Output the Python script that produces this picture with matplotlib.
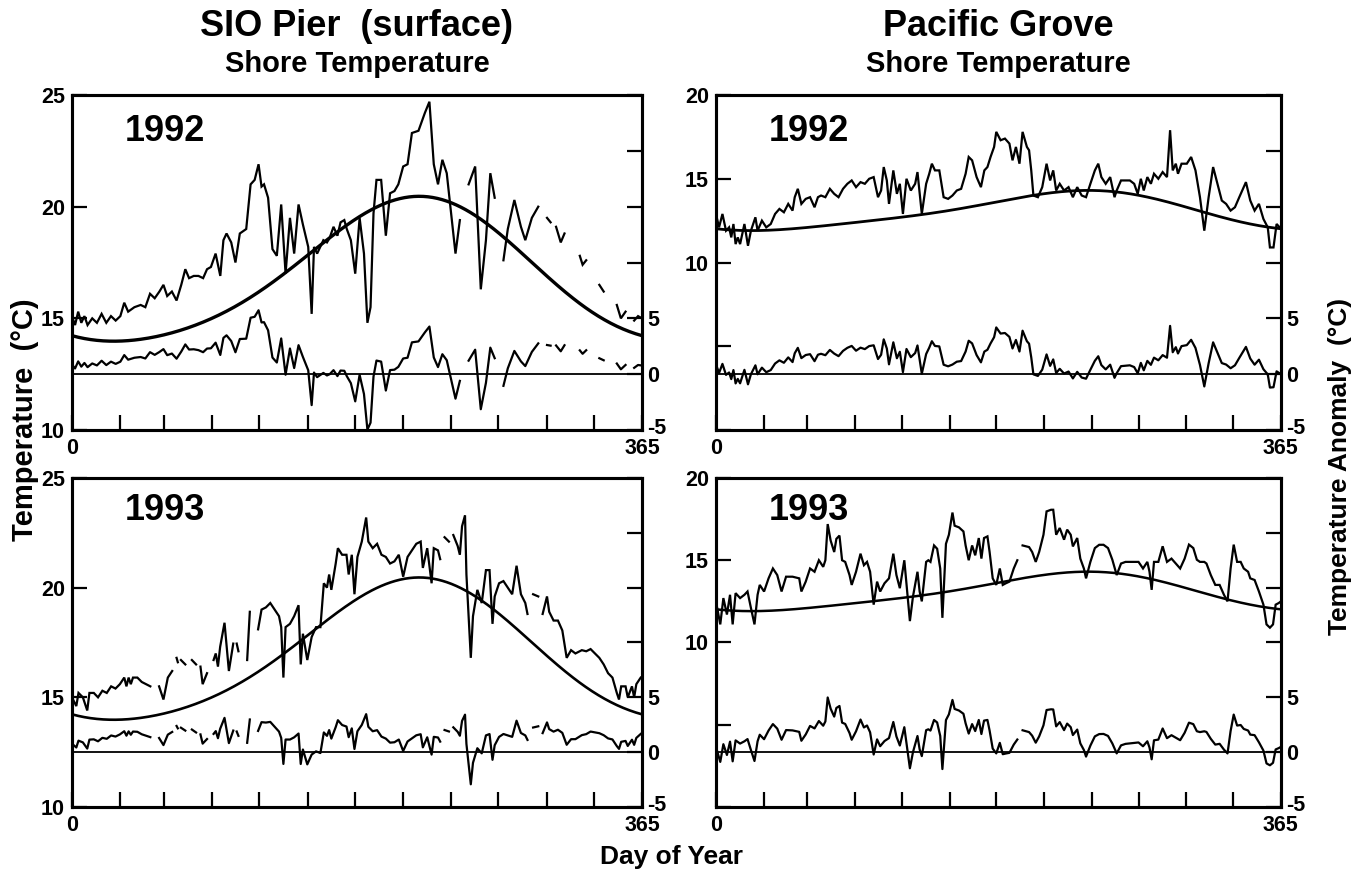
import numpy as np
import matplotlib
matplotlib.use("Agg")
import matplotlib.pyplot as plt
from matplotlib.transforms import ScaledTranslation

plt.rcParams['font.family'] = ['Liberation Sans', 'DejaVu Sans']
plt.rcParams['font.weight'] = 'bold'

nan = np.nan

MONTH_STARTS = [0, 31, 59, 90, 120, 151, 181, 212, 243, 273, 304, 334, 365]

# Seasonal climatology reference values (day of year, deg C)
SIO_CLIM = [(0, 14.3), (33, 14.0), (64, 14.27), (92, 15.03), (120, 16.3), (148, 17.67),
            (176, 19.18), (204, 20.14), (225, 20.45), (246, 20.17), (273, 18.88),
            (301, 17.07), (329, 15.33), (365, 14.3)]
PG_CLIM = [(0, 12.03), (35, 11.87), (96, 12.5), (130, 12.76), (147, 13.1), (204, 13.97),
           (243, 14.32), (268, 14.06), (280, 14.0), (310, 12.96), (331, 12.7), (365, 12.05)]

# Daily shore temperature (day of year, deg C); nan marks missing records
SIO_1992 = [
    (0, 15.1), (2, 14.7), (4, 15.3), (6, 14.8), (8, 15.1), (10, 14.7), (13, 15.0), (16, 14.8),
    (19, 15.2), (22, 14.8), (25, 15.1), (28, 14.9), (31, 15.1), (33.5, 15.7), (36, 15.3),
    (40, 15.5), (44, 15.6), (47, 15.5), (50, 16.1), (53, 15.9), (56, 16.2), (58.6, 16.5),
    (61, 16.0), (64, 16.2), (67, 15.8), (70, 16.5), (72.6, 17.2), (75, 16.8), (78, 16.9),
    (81, 16.9), (84, 16.8), (86.5, 17.2), (89, 17.3), (92, 17.9), (95, 16.9), (97, 18.5),
    (99, 18.8), (102, 18.4), (104.7, 17.5), (107.5, 18.8), (111.6, 19.0), (114.4, 21.0),
    (117, 21.2), (119.5, 21.9), (121.4, 20.9), (123, 21.0), (125.6, 20.4), (128.4, 18.1),
    (131.2, 17.8), (134, 20.1), (136.8, 17.0), (139.6, 19.5), (142.3, 17.9), (145.1, 20.1),
    (147.9, 19.2), (151.3, 18.2), (153.5, 15.2), (155, 18.2), (157, 17.9), (159, 18.2),
    (161, 18.5), (163.3, 18.4), (165, 18.6), (167.5, 19.1), (170, 18.7), (172, 19.3),
    (174.4, 19.4), (176, 19.0), (178.6, 18.5), (181.4, 17.0), (184.2, 19.5), (187, 17.9),
    (189.2, 14.8), (191.2, 15.5), (193.1, 19.7), (195, 21.2), (198, 21.2), (201, 18.7),
    (203.7, 20.6), (206.5, 20.7), (209, 21.0), (212.1, 21.8), (214.9, 21.9), (217.7, 23.3),
    (221.9, 23.4), (226, 24.2), (228.9, 24.7), (231.7, 21.9), (234.4, 21.0), (237.2, 22.1),
    (240, 21.5), (242.8, 19.7), (245.6, 17.9), (248.4, 19.4), (251, nan), (254, 21.0),
    (258.2, 21.8), (261.8, 16.3), (265.1, 18.5), (267.9, 21.5), (270.7, 20.4), (273, nan),
    (276.3, 17.6), (279.1, 19.0), (283.3, 20.3), (287.5, 19.1), (290.3, 18.5), (294.5, 19.5),
    (298.6, 20.0), (301, nan), (304.2, 19.5), (306.5, 19.3), (308, nan), (310, 19.1),
    (313, 18.4), (315.4, 18.8), (318, nan), (325.2, 17.8), (327, 17.4), (329.3, 17.6),
    (333, nan), (337.7, 16.5), (340.5, 16.2), (344, nan), (348.9, 15.6), (351.5, 15.0),
    (354.5, 15.3), (357, nan), (360, 14.9), (362.5, 15.1), (365, 15.0),
]

SIO_1993 = [
    (0, 15.0), (1.4, 14.8), (2.8, 14.6), (4.2, 15.2), (7.0, 15.0), (9.8, 14.4), (11.2, 15.2),
    (14, 15.2), (16.7, 15.0), (19.5, 15.3), (22.3, 15.2), (25.1, 15.5), (27.9, 15.4),
    (30.7, 15.6), (33.5, 15.9), (34.9, 15.5), (36.3, 15.9), (37.7, 15.6), (39.1, 15.9),
    (41.9, 15.9), (44.7, 15.7), (47.4, 15.6), (50.2, 15.5), (52, nan), (55.8, 15.5),
    (58.6, 14.9), (61.4, 15.9), (64.2, 16.2), (66, nan), (67.0, 16.8), (67.8, 16.6),
    (69, nan), (69.8, 16.7), (72.6, 16.5), (74.5, nan), (76.8, 16.7), (79.5, 16.5),
    (81, nan), (82.3, 16.4), (83.7, 15.6), (86.5, 16.1), (88.5, nan), (90.7, 16.7),
    (92.1, 17.0), (93.5, 16.4), (94.9, 17.3), (97.7, 18.4), (99.1, 17.3), (100.5, 16.2),
    (103.3, 17.45), (104.5, nan), (105.5, 17.45), (106.6, 17.1), (109, nan), (112.2, 16.7),
    (113.9, 18.9), (116, nan), (119.2, 18.1), (121.4, 19.0), (124.2, 19.1), (127.0, 19.3),
    (129.8, 19.0), (132.6, 18.7), (134.0, 18.2), (135.4, 15.9), (136.8, 18.2), (139.6, 18.35),
    (142.3, 18.7), (145.1, 19.2), (146.5, 16.5), (147.9, 17.9), (150.7, 16.7), (153.5, 17.75),
    (156.3, 18.2), (159.1, 18.2), (161.3, 20.2), (163.3, 20.0), (164.7, 20.6), (166.1, 19.9),
    (168.9, 21.1), (170.3, 21.8), (173.0, 21.5), (175.8, 21.5), (177.2, 20.6), (179.2, 21.5),
    (180.9, 19.7), (182.8, 21.4), (185.6, 22.1), (188.4, 23.2), (189.8, 22.1), (192.6, 21.8),
    (195.4, 22.0), (198.2, 21.5), (201.0, 21.4), (203.7, 21.1), (206.5, 21.2), (209.3, 21.5),
    (212.1, 20.5), (214.9, 21.4), (217.7, 21.7), (220.5, 22.0), (223.3, 22.1), (224.7, 20.9),
    (227.5, 21.8), (230.3, 20.2), (231.7, 21.8), (234.4, 21.7), (235.8, 21.3), (237.5, nan),
    (238.6, 22.3), (241.4, 22.1), (243, nan), (244.2, 22.4), (247.0, 21.9), (248.4, 21.5),
    (249.8, 22.8), (251.7, 23.3), (252.6, 20.6), (254.0, 18.7), (255.4, 16.8), (256.8, 18.7),
    (259.6, 19.9), (262.4, 19.3), (265.1, 20.8), (267.4, 20.8), (269.3, 18.35), (270.7, 19.6),
    (273.5, 20.2), (276.3, 20.3), (279.1, 20.0), (281.9, 19.7), (284.7, 21.0), (287.5, 19.7),
    (290.3, 19.3), (291.7, 18.8), (293.5, nan), (295.3, 19.7), (298.6, 19.6), (300.5, nan),
    (301.4, 18.8), (304.2, 19.6), (305.6, 18.9), (308.4, 18.5), (311.2, 18.5), (314.0, 18.05),
    (316.8, 16.8), (319.6, 17.15), (322.4, 17.0), (326.5, 17.15), (329.3, 17.1), (332.1, 17.2),
    (334.9, 17.0), (337.7, 16.8), (340.5, 16.5), (343.3, 16.1), (346.1, 15.9), (348.9, 15.2),
    (350.3, 14.9), (351.7, 15.5), (354.5, 15.5), (355.9, 15.0), (358.6, 15.5), (360.0, 15.0),
    (361.4, 15.6), (364.2, 15.9),
]

PG_1992 = [
    (0, 12.9), (2.0, 12.1), (4.2, 12.9), (6.5, 11.9), (8.5, 12.1), (9.9, 11.5), (11.3, 12.3),
    (12.7, 11.1), (14.1, 11.5), (15.6, 11.1), (18.4, 12.3), (20.7, 11.0), (22.6, 11.9),
    (25.5, 12.7), (26.9, 11.9), (29.7, 12.5), (32.5, 12.1), (35.4, 12.3), (38.2, 12.9),
    (41.0, 13.2), (43.9, 13.0), (46.7, 13.5), (49.5, 13.1), (50.9, 13.9), (52.9, 14.4),
    (55.2, 13.5), (58.0, 13.8), (60.8, 13.9), (63.7, 13.3), (65.9, 13.9), (67.9, 14.0),
    (70.7, 13.9), (73.6, 14.4), (76.4, 14.1), (79.2, 13.9), (82.1, 14.4), (84.9, 14.7),
    (87.7, 14.9), (90.5, 14.5), (93.4, 14.8), (96.2, 14.7), (99.0, 15.0), (101.9, 15.1),
    (104.7, 13.9), (106.7, 14.3), (108.4, 15.7), (110.4, 14.9), (111.8, 13.5), (114.6, 15.5),
    (116.9, 14.1), (118.8, 14.7), (120.8, 12.9), (123.1, 15.0), (125.9, 14.3), (128.7, 14.7),
    (130.2, 15.4), (133.0, 12.9), (135.8, 14.7), (137.8, 15.3), (139.5, 15.9), (141.5, 15.5),
    (144.3, 15.5), (147.1, 13.9), (150.0, 13.8), (152.8, 14.0), (155.6, 14.3), (158.4, 14.4),
    (161.3, 15.3), (163.3, 16.3), (165.5, 16.1), (168.4, 15.1), (171.2, 14.5), (173.4, 15.5),
    (175.4, 15.7), (177.4, 16.3), (179.7, 16.9), (181.1, 17.8), (183.9, 17.3), (186.7, 17.4),
    (189.6, 17.1), (191.6, 16.1), (193.8, 16.9), (196.1, 15.9), (198.1, 17.8), (200.9, 16.9),
    (202.3, 16.7), (203.7, 15.5), (205.1, 14.0), (208.0, 13.9), (210.8, 14.5), (213.6, 15.9),
    (215.9, 14.9), (217.9, 15.5), (219.8, 14.3), (222.1, 14.7), (224.9, 14.3), (227.8, 14.5),
    (230.6, 13.9), (233.4, 14.5), (236.3, 14.0), (239.1, 13.9), (241.9, 14.7), (244.8, 15.5),
    (247.0, 15.9), (249.0, 15.1), (251.8, 14.7), (254.7, 15.1), (257.5, 13.9), (258.9, 14.3),
    (261.7, 14.9), (264.6, 14.9), (267.4, 14.9), (270.2, 14.7), (272.5, 14.1), (274.5, 15.0),
    (276.4, 14.3), (278.7, 15.1), (281.0, 14.7), (283.0, 15.3), (285.8, 15.0), (288.6, 15.4),
    (291.4, 15.1), (293.4, 17.9), (295.1, 15.5), (297.1, 15.9), (298.5, 15.3), (300.8, 15.9),
    (304.2, 15.9), (307.0, 16.3), (309.8, 15.5), (312.7, 13.9), (315.5, 11.9), (318.3, 13.9),
    (321.2, 15.7), (324.0, 14.7), (326.8, 13.7), (329.6, 13.5), (332.5, 13.1), (335.3, 13.3),
    (338.1, 13.9), (342.4, 14.8), (345.2, 13.7), (348.0, 13.1), (350.8, 13.5), (353.7, 12.6),
    (356.5, 12.1), (357.9, 10.9), (360.2, 10.9), (362.2, 12.3), (364.2, 12.1),
]

PG_1993 = [
    (0, 12.5), (2.8, 11.1), (4.8, 12.7), (7.1, 11.7), (9.1, 12.9), (10.8, 11.1), (12.7, 13.0),
    (15.6, 12.7), (18.4, 12.9), (20.4, 13.1), (22.6, 12.1), (24.9, 11.1), (26.9, 12.9),
    (28.3, 13.5), (31.1, 13.1), (34.0, 13.9), (36.8, 14.5), (39.6, 14.1), (42.4, 13.1),
    (45.3, 14.0), (49.5, 14.0), (53.8, 13.9), (55.2, 13.1), (58.0, 13.7), (60.8, 14.5),
    (63.7, 14.3), (66.5, 15.0), (69.3, 14.6), (70.7, 15.0), (72.2, 17.2), (74.1, 16.2),
    (76.4, 15.5), (77.8, 16.3), (79.8, 16.5), (81.5, 15.0), (83.5, 14.9), (86.3, 14.1),
    (87.7, 13.5), (90.5, 14.3), (93.4, 15.4), (95.6, 14.7), (97.6, 14.9), (99.6, 14.3),
    (101.9, 12.3), (104.1, 13.7), (106.1, 13.1), (108.9, 13.6), (111.8, 13.9), (114.6, 15.4),
    (116.6, 14.1), (118.8, 13.3), (121.7, 15.0), (123.9, 12.7), (125.3, 11.3), (127.3, 12.8),
    (130.2, 14.3), (131.6, 13.1), (133.0, 12.5), (135.8, 14.9), (137.2, 15.0), (138.6, 14.9),
    (140.9, 15.9), (142.9, 15.7), (144.9, 14.5), (146.3, 11.5), (148.6, 16.0), (150.5, 16.55),
    (152.8, 17.9), (154.2, 17.1), (157.0, 17.0), (159.9, 16.75), (161.3, 15.9), (163.3, 15.0),
    (165.5, 15.9), (167.5, 15.3), (169.8, 16.35), (171.5, 15.1), (173.2, 16.35), (175.4, 16.45),
    (176.8, 15.5), (178.8, 13.9), (181.1, 13.5), (183.4, 14.5), (185.3, 13.5), (187.3, 13.6),
    (189.6, 13.7), (192.4, 14.5), (194.7, 15.0), (196.5, nan), (198.1, 15.9), (202.3, 15.8),
    (204.3, 15.5), (206.6, 14.9), (208.8, 15.5), (211.6, 16.55), (213.6, 17.97), (216.5, 18.07),
    (217.9, 18.07), (219.8, 16.55), (222.1, 16.96), (224.9, 16.25), (226.9, 16.86),
    (229.2, 16.55), (230.6, 15.84), (233.4, 16.35), (235.4, 15.1), (237.7, 14.5), (239.1, 13.9),
    (241.9, 14.9), (244.8, 15.74), (247.6, 15.94), (250.4, 15.94), (253.3, 15.74), (256.1, 15.03),
    (258.9, 14.1), (261.7, 14.8), (264.6, 14.9), (268.8, 14.9), (273.0, 14.9), (275.9, 14.5),
    (278.7, 14.9), (280.1, 14.3), (281.5, 13.2), (283.0, 14.9), (285.8, 14.9), (288.6, 15.85),
    (291.4, 14.9), (294.3, 15.1), (297.1, 14.8), (299.9, 14.5), (302.8, 15.1), (305.6, 15.95),
    (308.4, 15.74), (310.7, 15.03), (312.7, 14.9), (315.5, 14.9), (316.9, 14.8), (319.7, 14.1),
    (322.6, 13.5), (325.4, 13.5), (328.2, 12.9), (330.5, 12.5), (332.5, 14.5), (334.5, 15.95),
    (336.7, 14.9), (339.0, 14.9), (341.0, 14.5), (343.8, 14.3), (345.2, 13.9), (348.0, 13.8),
    (350.8, 13.1), (353.7, 12.3), (355.7, 11.1), (357.9, 10.9), (359.9, 11.1), (361.6, 12.3),
    (363.6, 12.4), (365, 12.5),
]

STATION_TITLES = ["SIO Pier  (surface)", "Pacific Grove"]
SUBTITLE = "Shore Temperature"
YEARS = ["1992", "1993"]


def seasonal_cycle(ref):
    """Two-harmonic least-squares seasonal cycle through reference values."""
    d, t = np.array(ref, dtype=float).T
    w = 2 * np.pi / 365.0

    def design(x):
        x = np.asarray(x, dtype=float)
        return np.column_stack([np.ones_like(x), np.cos(w * x), np.sin(w * x),
                                np.cos(2 * w * x), np.sin(2 * w * x)])

    coef = np.linalg.lstsq(design(d), t, rcond=None)[0]
    return lambda x: design(x) @ coef


clim_sio = seasonal_cycle(SIO_CLIM)
clim_pg = seasonal_cycle(PG_CLIM)

fig = plt.figure(figsize=(13.65, 8.71), dpi=100)

col_x = [(0.0527, 0.4176), (0.5245, 0.4139)]
row_y = [(0.5063, 0.3846), (0.0735, 0.3777)]

panels = [
    (0, 0, SIO_1992, clim_sio, (10, 25), [10, 15, 20, 25], [10, 15, 20, 25], 2.4),
    (0, 1, SIO_1993, clim_sio, (10, 25), [10, 15, 20, 25], [10, 15, 20, 25], 1.9),
    (1, 0, PG_1992, clim_pg, (0, 20), [0, 5, 10, 15, 20], [10, 15, 20], 2.0),
    (1, 1, PG_1993, clim_pg, (0, 20), [0, 5, 10, 15, 20], [10, 15, 20], 1.8),
]

TICK_FS = 15.5
TICK_LEN = 11
for col, row, series, clim, ylim, yticks, ylabels, clim_lw in panels:
    x0, w = col_x[col]
    y0, h = row_y[row]
    ax = fig.add_axes([x0, y0, w, h])
    days, temps = np.array(series, dtype=float).T
    seasonal = clim(days)

    ax.plot(days, temps, color='black', lw=1.6, solid_joinstyle='miter')
    full_days = np.arange(0, 366)
    ax.plot(full_days, clim(full_days), color='black', lw=clim_lw)
    ax.set_xlim(0, 365)
    ax.set_ylim(*ylim)

    ax.set_xticks(MONTH_STARTS)
    ax.set_xticklabels(['0'] + [''] * 11 + ['365'])
    ax.set_yticks(yticks)
    ax.set_yticklabels([str(v) if v in ylabels else '' for v in yticks])
    ax.tick_params(axis='both', direction='in', length=TICK_LEN, width=1.6,
                   labelsize=TICK_FS, pad=5)
    ax.tick_params(axis='x', pad=6)
    for s in ax.spines.values():
        s.set_linewidth(2.2)
    for lab in ax.get_xticklabels() + ax.get_yticklabels():
        lab.set_fontweight('bold')

    ax2 = ax.twinx()
    ax2.set_ylim(-5, 25)
    ax2.plot(days, temps - seasonal, color='black', lw=1.6)
    ax2.axhline(0, color='black', lw=1.3)
    rticks = [-5, 0, 5, 10, 15, 20, 25]
    ax2.set_yticks(rticks)
    ax2.set_yticklabels([str(v) if v <= 5 else '' for v in rticks])
    ax2.tick_params(axis='y', direction='in', length=TICK_LEN, width=1.6,
                    labelsize=TICK_FS, pad=4)
    for lab in ax2.get_yticklabels():
        lab.set_fontweight('bold')
    # lift the lowest anomaly label a little so it clears the day label below
    low = ax2.get_yticklabels()[0]
    low.set_transform(low.get_transform() + ScaledTranslation(0, 3 / 72, fig.dpi_scale_trans))
    for s in ax2.spines.values():
        s.set_linewidth(2.2)

    ax.text(0.093, 0.89 if row == 0 else 0.90, YEARS[row], transform=ax.transAxes,
            fontsize=26, fontweight='bold', ha='left', va='center')

# Column headings
for col, title in enumerate(STATION_TITLES):
    x0, w = col_x[col]
    cx = x0 + w / 2
    fig.text(cx, 1 - 27 / 871, title, fontsize=26, fontweight='bold', ha='center', va='center')
    fig.text(cx, 1 - 64 / 871, SUBTITLE, fontsize=21, fontweight='bold', ha='center', va='center')

fig.text(0.0183, 1 - 298 / 871, "Temperature  (\u00b0C)", rotation=90, fontsize=21,
         fontweight='bold', ha='center', va='top')
fig.text(0.9817, 1 - 298 / 871, "Temperature Anomaly  (\u00b0C)", rotation=90, fontsize=19,
         fontweight='bold', ha='center', va='top')
fig.text(0.492, 1 - 857 / 871, "Day of Year", fontsize=19, fontweight='bold',
         ha='center', va='center')

fig.savefig("out.png", dpi=100)
